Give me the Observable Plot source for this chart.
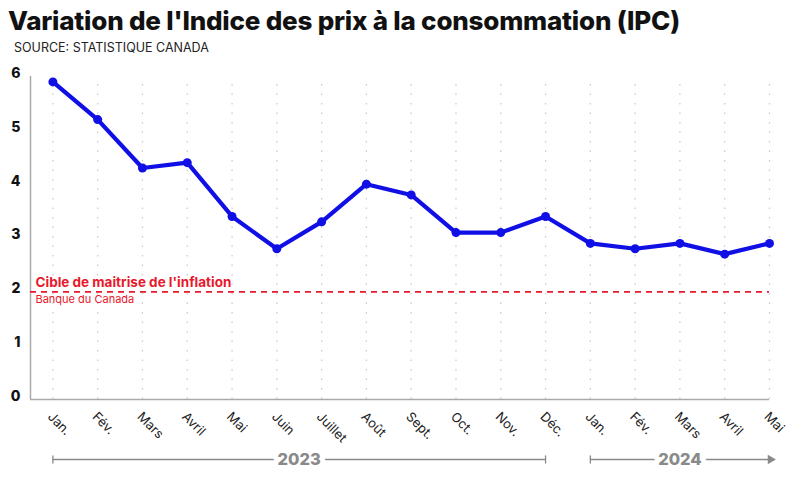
<!DOCTYPE html>
<html>
<head>
<meta charset="utf-8">
<script src="https://cdn.jsdelivr.net/npm/d3@7"></script>
<script src="https://cdn.jsdelivr.net/npm/@observablehq/plot@0.6"></script>
<style>
  body { margin: 0; background: #fff; font-family: "Inter", "Lato", sans-serif; }
  #wrap { width: 800px; height: 478px; overflow: hidden; }
  #title { margin: 0; padding: 6px 0 0 8px; font-size: 26px; font-weight: 800; color: #111; letter-spacing: -0.2px; line-height: 30px; height: 30px; }
  #sub { margin: 0; padding: 4px 0 0 14px; font-size: 12.5px; color: #222; height: 20px; line-height: 16px; }
</style>
</head>
<body>
<div id="wrap">
  <div id="title">Variation de l'Indice des prix à la consommation (IPC)</div>
  <div id="sub">SOURCE: STATISTIQUE CANADA</div>
  <div id="chart"></div>
</div>
<script>
const months = ["Jan.", "Fév.", "Mars", "Avril", "Mai", "Juin", "Juillet", "Août", "Sept.", "Oct.", "Nov.", "Déc.", "Jan.", "Fév.", "Mars", "Avril", "Mai"];
const ipc = [5.9, 5.2, 4.3, 4.4, 3.4, 2.8, 3.3, 4.0, 3.8, 3.1, 3.1, 3.4, 2.9, 2.8, 2.9, 2.7, 2.9];
const yTicks = [0, 1, 2, 3, 4, 5, 6];
const target = 2;
const targetLabel = "Cible de maitrise de l'inflation";
const targetSource = "Banque du Canada";
const years = ["2023", "2024"];
const yearStart = [0, 12];
const yearEnd = [11, 16];

const data = months.map((m, i) => ({i, m, v: ipc[i]}));
const yrs = years.map((y, k) => ({year: y, start: yearStart[k], end: yearEnd[k], mid: (yearStart[k] + yearEnd[k]) / 2}));

const blue = "#1010e6";
const red = "#e8192c";
const gray = "#8a8a8a";

const tickShape = {draw(context, l) { context.moveTo(0, 0); context.lineTo(0, -l); }};

const plot = Plot.plot({
  width: 800,
  height: 418,
  marginTop: 16,
  marginBottom: 79,
  marginLeft: 30,
  marginRight: 31,
  style: {fontFamily: "Inter, Lato, sans-serif", overflow: "visible"},
  x: {domain: [-0.5, 16], axis: null},
  y: {domain: [0, 6], axis: null},
  marks: [
    Plot.ruleX(data, {x: "i", y1: 0, y2: 6, stroke: "#c8c8c8", strokeDasharray: "1.5,8", strokeWidth: 1.2}),
    Plot.ruleX([-0.5], {y1: 0, y2: 6, stroke: "#aaa", strokeWidth: 1.5}),
    Plot.ruleY([0], {x1: -0.5, x2: 16, stroke: "#aaa", strokeWidth: 1.5}),
    Plot.text(yTicks, {x: -0.5, y: d => d, text: d => String(d), textAnchor: "end", dx: -10, dy: -3, fontSize: 14, fontWeight: 800, fill: "#111"}),
    Plot.ruleY([target], {x1: -0.5, x2: 16, stroke: red, strokeWidth: 1.6, strokeDasharray: "6,5"}),
    Plot.text([target], {x: -0.5, y: d => d, text: () => targetLabel, textAnchor: "start", dx: 5, dy: -9, fontSize: 13.5, fontWeight: 700, fill: red}),
    Plot.text([target], {x: -0.5, y: d => d, text: () => targetSource, textAnchor: "start", dx: 5, dy: 8, fontSize: 11, fill: red}),
    Plot.line(data, {x: "i", y: "v", stroke: blue, strokeWidth: 4.2, strokeLinejoin: "round"}),
    Plot.dot(data, {x: "i", y: "v", r: 4.5, fill: blue}),
    Plot.text(data, {x: "i", y: 0, text: "m", rotate: 45, textAnchor: "start", dx: -3, dy: 15, fontSize: 13, fill: "#222"}),
    Plot.ruleY(yrs, {x1: "start", x2: "end", y: 0, dy: 60, stroke: gray, strokeWidth: 1.3}),
    Plot.vector(yrs, {x: "start", y: 0, dy: 60, length: 7, rotate: 0, anchor: "middle", shape: tickShape, stroke: gray, strokeWidth: 1.3}),
    Plot.vector(yrs.filter(d => d.year === "2023"), {x: "end", y: 0, dy: 60, length: 7, rotate: 0, anchor: "middle", shape: tickShape, stroke: gray, strokeWidth: 1.3}),
    Plot.dot(yrs.filter(d => d.year === "2024"), {x: "end", y: 0, dy: 60, dx: 1, symbol: "triangle", r: 3.5, rotate: 90, fill: gray}),
    Plot.text(yrs, {x: "mid", y: 0, dy: 60, text: "year", fontSize: 16.5, fontWeight: 800, fill: gray, stroke: "white", strokeWidth: 10})
  ]
});
document.getElementById("chart").appendChild(plot);
</script>
</body>
</html>
